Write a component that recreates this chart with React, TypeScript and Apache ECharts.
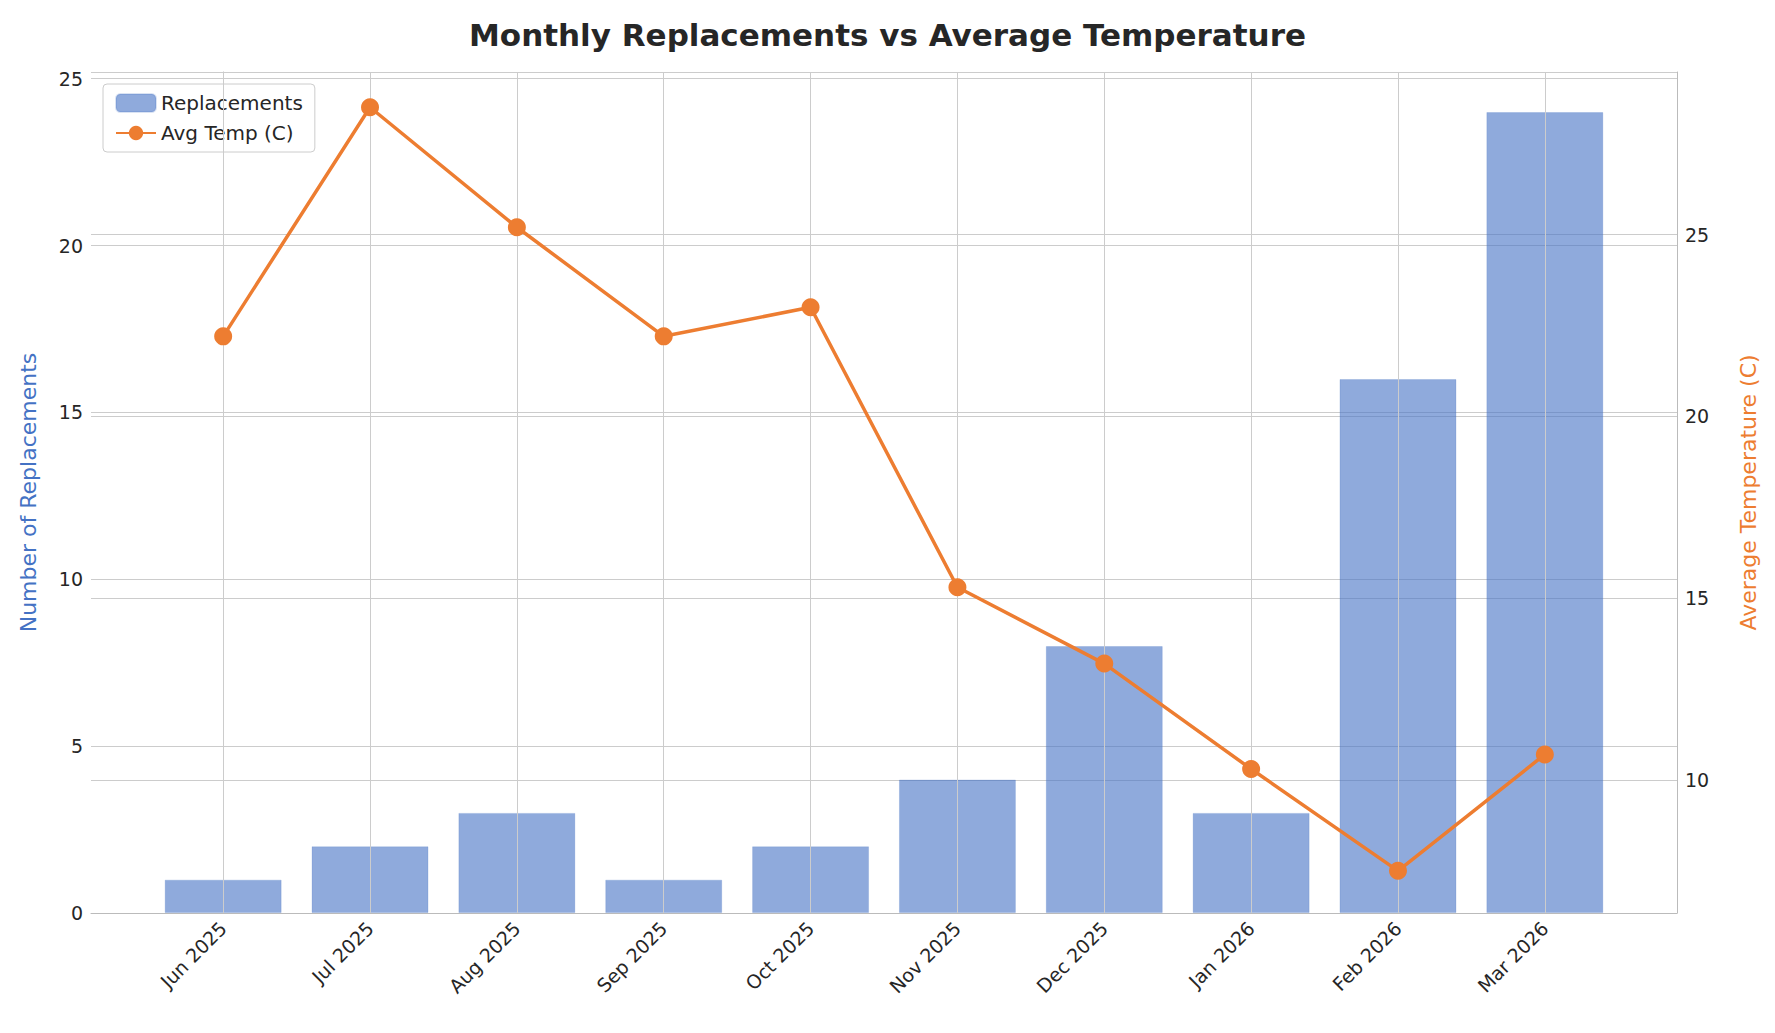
import { useEffect, useRef } from 'react';
import * as echarts from 'echarts';

const months = ['Jun 2025', 'Jul 2025', 'Aug 2025', 'Sep 2025', 'Oct 2025', 'Nov 2025', 'Dec 2025', 'Jan 2026', 'Feb 2026', 'Mar 2026'];
const replacements = [1, 2, 3, 1, 2, 4, 8, 3, 16, 24];
const avgTemp = [22.2, 28.5, 25.2, 22.2, 23.0, 15.3, 13.2, 10.3, 7.5, 10.7];
const leftTicks = [0, 5, 10, 15, 20, 25];
const rightTicks = [10, 15, 20, 25];

const FONT = 'DejaVu Sans';
const GRID = '#cccccc';

export default function App() {
  const ref = useRef<HTMLDivElement>(null);

  useEffect(() => {
    if (!ref.current) return;
    const chart = echarts.init(ref.current, null, { renderer: 'svg' });
    const idx = months.map((_, i) => i);
    const option: echarts.EChartsOption = {
      animation: false,
      backgroundColor: '#ffffff',
      textStyle: { fontFamily: FONT },
      title: {
        text: 'Monthly Replacements vs Average Temperature',
        left: 'center',
        top: 6,
        textStyle: { fontFamily: FONT, fontSize: 31, fontWeight: 'bold', color: '#262626' },
      },
      legend: {
        left: 95,
        top: 76,
        orient: 'vertical',
        itemGap: 10,
        itemWidth: 40,
        itemHeight: 18,
        padding: [9, 12],
        borderColor: '#cccccc',
        borderWidth: 1,
        borderRadius: 4,
        textStyle: { fontFamily: FONT, fontSize: 20, color: '#262626' },
        data: ['Replacements', 'Avg Temp (C)'],
      },
      grid: { left: 83, right: 75, top: 64, bottom: 112 },
      xAxis: {
        type: 'value',
        min: -0.9,
        max: 9.9,
        axisLine: { show: true, lineStyle: { color: '#bbbbbb' } },
        axisTick: { show: false, customValues: idx },
        splitLine: { show: false },
        axisLabel: {
          customValues: idx,
          rotate: 45,
          fontSize: 19,
          color: '#262626',
          fontFamily: FONT,
          margin: 12,
          formatter: (v: number) => months[Math.round(v)] ?? '',
        },
      },
      yAxis: [
        {
          type: 'value',
          min: 0,
          max: 25.2,
          interval: 5,
          name: 'Number of Replacements',
          nameLocation: 'middle',
          nameGap: 52,
          nameTextStyle: { color: '#4472c4', fontSize: 22, fontFamily: FONT },
          axisLine: { show: true, lineStyle: { color: '#bbbbbb' } },
          axisTick: { show: false },
          axisLabel: {
            fontSize: 19,
            color: '#262626',
            fontFamily: FONT,
            formatter: (v: number) => (leftTicks.includes(v) ? String(v) : ''),
          },
          splitLine: { show: true, lineStyle: { color: GRID, width: 1 } },
        },
        {
          type: 'value',
          min: 6.34,
          max: 29.47,
          position: 'right',
          name: 'Average Temperature (C)',
          nameLocation: 'middle',
          nameGap: 60,
          nameTextStyle: { color: '#ed7d31', fontSize: 22, fontFamily: FONT },
          axisLine: { show: true, lineStyle: { color: '#bbbbbb' } },
          axisTick: { show: false, customValues: rightTicks },
          axisLabel: {
            customValues: rightTicks,
            fontSize: 19,
            color: '#262626',
            fontFamily: FONT,
          },
          splitLine: { show: false },
        },
      ],
      series: [
        {
          name: 'Replacements',
          type: 'bar',
          yAxisIndex: 0,
          barWidth: 117,
          data: replacements.map((v, i) => [i, v]),
          itemStyle: { color: 'rgba(68,114,196,0.6)', borderColor: 'rgba(68,114,196,0.2)', borderWidth: 1 },
          markLine: {
            silent: true,
            symbol: 'none',
            label: { show: false },
            lineStyle: { color: GRID, width: 1, type: 'solid' },
            data: idx.map((i) => ({ xAxis: i })),
          },
        },
        {
          name: 'Avg Temp (C)',
          type: 'line',
          yAxisIndex: 1,
          data: avgTemp.map((v, i) => [i, v]),
          symbol: 'circle',
          symbolSize: 18,
          lineStyle: { color: '#ed7d31', width: 3.5 },
          itemStyle: { color: '#ed7d31' },
          z: 5,
          markLine: {
            silent: true,
            symbol: 'none',
            label: { show: false },
            lineStyle: { color: GRID, width: 1, type: 'solid' },
            data: rightTicks.map((t) => ({ yAxis: t })),
            z: 1,
          },
        },
      ],
    };
    chart.setOption(option);
    return () => chart.dispose();
  }, []);

  return <div ref={ref} style={{ width: 1759, height: 1017 }} />;
}
